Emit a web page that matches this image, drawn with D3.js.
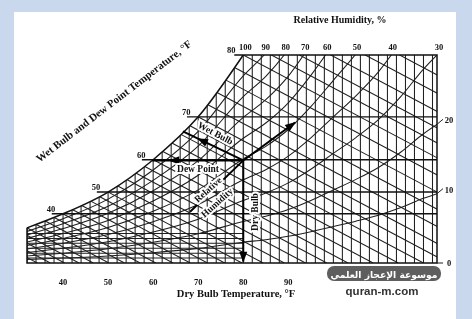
<!DOCTYPE html>
<html>
<head>
<meta charset="utf-8">
<script src="https://cdn.jsdelivr.net/npm/d3@7"></script>
<style>
  html, body { margin: 0; padding: 0; background: #c9d8ec; }
  svg { display: block; will-change: transform; }
  text { font-family: "Liberation Serif", "DejaVu Serif", serif; font-weight: bold; fill: #111; }
</style>
</head>
<body>
<div id="chart"></div>
<script>
'use strict';

// saturation (100% RH) curve: dry bulb °F -> humidity (right scale units)
const satTemps    = [20, 26, 32, 40, 50, 60, 70, 80, 85, 90, 95, 100, 105, 110, 115, 120, 123];
const satHumidity = [2.9, 3.8, 5.0, 7.0, 10.1, 14.7, 20.8, 29.6, 33.2, 38.0, 44.5, 52.0, 59.5, 68.0, 79.0, 92.0, 98.7];

const rhTopLabels = [100, 90, 80, 70, 60, 50, 40, 30];
const rhEdgeLabels = [20, 10, 0];
const rhLines = [90, 80, 70, 60, 50, 40, 30, 20, 10];
const dewPointLabels = [40, 50, 60, 70, 80];
const dewPointLines = [40, 50, 60, 70];
const dryBulbTicks = [40, 50, 60, 70, 80, 90];
const dryBulbGrid = d3.range(32, 123, 2);
const wetBulbGrid = d3.range(20, 91, 2);
const lowHumidityLines = [0.7, 1.4, 2.1, 2.8, 3.5, 4.2];
const wetBulbSlope = 0.34;   // humidity units lost per °F along a wet bulb line

// example state point
const stateDryBulb = 80, stateHumidity = 14.6, stateWetBulb = 66.6, stateDewPoint = 59.8;
const rhArrowStart = [68.2, 7.3], rhArrowEnd = [91.5, 20.0];

const T_MIN = 32, T_MAX = 123, W_TOP = 29.6;

const x = d3.scaleLinear().domain([T_MIN, T_MAX]).range([27, 437]);
const y = d3.scaleLinear().domain([0, W_TOP]).range([263, 55]);
const wSat = d3.scaleLinear().domain(satTemps).range(satHumidity);
const tSat = d3.scaleLinear().domain(satHumidity).range(satTemps);

const svg = d3.select('#chart').append('svg')
    .attr('width', 472)
    .attr('height', 319);

svg.append('rect').attr('width', 472).attr('height', 319).attr('fill', '#c9d8ec');
svg.append('rect').attr('x', 14).attr('y', 12).attr('width', 442).attr('height', 307).attr('fill', '#fff');

const line = d3.line().x(d => x(d[0])).y(d => y(d[1]));
const curve = d3.line().x(d => x(d[0])).y(d => y(d[1])).curve(d3.curveMonotoneX);

const satPts = satTemps.filter(t => t >= T_MIN && t <= 80).map(t => [t, wSat(t)]);
const regionPath = curve(satPts) +
    `L${x(T_MAX)},${y(W_TOP)}L${x(T_MAX)},${y(0)}L${x(T_MIN)},${y(0)}Z`;

const defs = svg.append('defs');
defs.append('clipPath').attr('id', 'region').append('path').attr('d', regionPath);
defs.append('marker')
    .attr('id', 'head')
    .attr('viewBox', '0 -5 12 10')
    .attr('refX', 11).attr('refY', 0)
    .attr('markerUnits', 'userSpaceOnUse')
    .attr('markerWidth', 12).attr('markerHeight', 9)
    .attr('orient', 'auto')
    .append('path').attr('d', 'M0,-4.5L12,0L0,4.5Z').attr('fill', '#000');

const grid = svg.append('g')
    .attr('clip-path', 'url(#region)')
    .attr('fill', 'none')
    .attr('stroke', '#1f1f1f')
    .attr('stroke-width', 1.05);

// dry bulb verticals
grid.selectAll('line.db')
    .data(dryBulbGrid)
    .join('line')
    .attr('x1', d => x(d)).attr('x2', d => x(d))
    .attr('y1', y(0)).attr('y2', y(W_TOP));

// low humidity horizontals
grid.selectAll('line.lh')
    .data(lowHumidityLines)
    .join('line')
    .attr('x1', x(T_MIN)).attr('x2', x(80))
    .attr('y1', d => y(d)).attr('y2', d => y(d));

// wet bulb lines
grid.selectAll('path.wb')
    .data(wetBulbGrid)
    .join('path')
    .attr('d', t => {
        const w0 = wSat(t);
        const t1 = t + w0 / wetBulbSlope;
        return line([[t - 1, w0 + wetBulbSlope], [t1, 0]]);
    });

// relative humidity curves
grid.selectAll('path.rh')
    .data(rhLines)
    .join('path')
    .attr('d', rh => curve(satTemps.filter(t => t >= T_MIN).map(t => [t, rh / 100 * wSat(t)])));

// dew point horizontals
svg.append('g')
    .attr('stroke', '#111')
    .attr('stroke-width', 1.4)
    .selectAll('line')
    .data(dewPointLines)
    .join('line')
    .attr('x1', d => x(d - 2.5)).attr('x2', x(T_MAX))
    .attr('y1', d => y(wSat(d))).attr('y2', d => y(wSat(d)));

// outline
svg.append('path')
    .attr('d', curve(satPts) + `M${x(78)},${y(W_TOP)}` +
        `L${x(T_MAX)},${y(W_TOP)}L${x(T_MAX)},${y(0)}L${x(T_MIN)},${y(0)}L${x(T_MIN)},${y(wSat(T_MIN))}`)
    .attr('fill', 'none')
    .attr('stroke', '#111')
    .attr('stroke-width', 1.5);

// little leader ticks for right edge labels
svg.append('g')
    .attr('stroke', '#222')
    .attr('stroke-width', 1)
    .selectAll('line')
    .data(rhEdgeLabels)
    .join('line')
    .attr('x1', x(T_MAX)).attr('x2', x(T_MAX) + 6)
    .attr('y1', d => y(d / 100 * wSat(T_MAX)))
    .attr('y2', d => y(d / 100 * wSat(T_MAX)) - (d > 0 ? 5 : 0));

// state point arrows
const arrows = svg.append('g')
    .attr('fill', 'none')
    .attr('stroke', '#000')
    .attr('stroke-width', 2);

arrows.append('path')
    .attr('d', line([[stateDryBulb, stateHumidity], [stateDryBulb, 0.2]]))
    .attr('marker-end', 'url(#head)');

arrows.append('path')
    .attr('d', line([[stateDryBulb, stateHumidity], [63.6, stateHumidity], [stateDewPoint, stateHumidity]]))
    .attr('marker-mid', 'url(#head)');

const wbEnd = [stateWetBulb, wSat(stateWetBulb)];
const wbMid = [wbEnd[0] + 0.25 * (stateDryBulb - wbEnd[0]), wbEnd[1] + 0.25 * (stateHumidity - wbEnd[1])];
arrows.append('path')
    .attr('d', line([[stateDryBulb, stateHumidity], wbMid, wbEnd]))
    .attr('marker-mid', 'url(#head)');

arrows.append('path')
    .attr('d', line([rhArrowStart, [stateDryBulb, stateHumidity], rhArrowEnd]))
    .attr('marker-end', 'url(#head)');

// labels
const labels = svg.append('g').attr('font-size', 8.5);

labels.selectAll('text.db')
    .data(dryBulbTicks)
    .join('text')
    .attr('x', d => x(d)).attr('y', 285)
    .attr('text-anchor', 'middle')
    .text(d => d);

labels.selectAll('text.rht')
    .data(rhTopLabels)
    .join('text')
    .attr('x', d => x(tSat(W_TOP * 100 / d)) + 2).attr('y', 50)
    .attr('text-anchor', 'middle')
    .text(d => d);

labels.selectAll('text.rhe')
    .data(rhEdgeLabels)
    .join('text')
    .attr('x', x(T_MAX) + 12).attr('y', d => y(d / 100 * wSat(T_MAX)) + (d > 0 ? -1 : 3))
    .attr('text-anchor', 'middle')
    .text(d => d);

labels.selectAll('text.dp')
    .data(dewPointLabels)
    .join('text')
    .attr('x', d => x(d) - 12).attr('y', d => y(wSat(d)) - 2)
    .attr('text-anchor', 'middle')
    .text(d => d);

svg.append('text')
    .attr('x', 340).attr('y', 23)
    .attr('text-anchor', 'middle')
    .attr('font-size', 10)
    .text('Relative Humidity, %');

svg.append('text')
    .attr('x', 236).attr('y', 297)
    .attr('text-anchor', 'middle')
    .attr('font-size', 10.5)
    .text('Dry Bulb Temperature, °F');

svg.append('text')
    .attr('transform', 'translate(116,104) rotate(-37.5)')
    .attr('text-anchor', 'middle')
    .attr('font-size', 10.8)
    .text('Wet Bulb and Dew Point Temperature, °F');

const inner = svg.append('g')
    .attr('font-size', 9.5)
    .attr('text-anchor', 'middle')
    .style('paint-order', 'stroke')
    .attr('stroke', '#fff')
    .attr('stroke-width', 4)
    .attr('stroke-linejoin', 'round');

inner.append('text').attr('transform', 'translate(214,136) rotate(28)').text('Wet Bulb');
inner.append('text').attr('x', 198).attr('y', 172).text('Dew Point');
inner.append('text').attr('transform', 'translate(210,192) rotate(-42)').text('Relative');
inner.append('text').attr('transform', 'translate(219,205) rotate(-42)').text('Humidity');
inner.append('text').attr('transform', 'translate(258,212) rotate(-90)').text('Dry Bulb');

// watermark
svg.append('rect')
    .attr('x', 327).attr('y', 266)
    .attr('width', 114).attr('height', 15)
    .attr('rx', 7)
    .attr('fill', '#5e5e5e');
svg.append('text')
    .attr('x', 384).attr('y', 277.5)
    .attr('text-anchor', 'middle')
    .style('font-family', '"DejaVu Sans", sans-serif')
    .style('font-weight', 'bold')
    .style('fill', '#fff')
    .attr('font-size', 9.2)
    .text('موسوعة الإعجاز العلمي');
svg.append('text')
    .attr('x', 382).attr('y', 295)
    .attr('text-anchor', 'middle')
    .style('font-family', '"Liberation Sans", Arial, sans-serif')
    .style('font-weight', 'bold')
    .style('fill', '#333')
    .attr('font-size', 11.5)
    .text('quran-m.com');
</script>
</body>
</html>
